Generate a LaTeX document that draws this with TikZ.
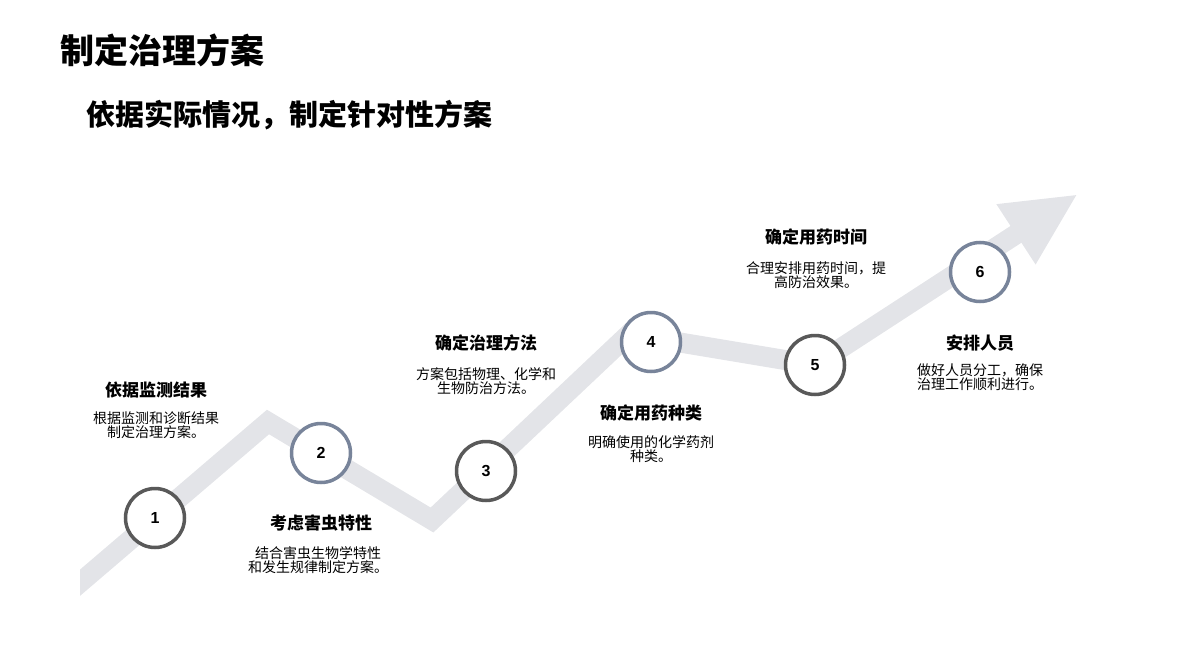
\documentclass[tikz,border=0pt]{standalone}
\usepackage{fontspec}
\newfontfamily\cjk{Noto Sans CJK SC}
\newfontfamily\numfont{Liberation Sans}
\usetikzlibrary{arrows.meta}

\definecolor{bandgray}{HTML}{E3E4E8}
\definecolor{darkring}{HTML}{595959}
\definecolor{slatering}{HTML}{78849A}

\tikzset{
  band/.style={draw=bandgray, line width=20pt, line join=miter,
    -{Triangle[length=74pt,width=66pt]}},
  ring/.style={circle, fill=white, line width=3.5pt, minimum size=59pt,
    inner sep=0pt, font=\numfont\bfseries\fontsize{16}{16}\selectfont},
  darkstep/.style={ring, draw=darkring},
  slatestep/.style={ring, draw=slatering},
  headline/.style={font=\cjk\bfseries\fontsize{17}{20}\selectfont, inner sep=0pt},
  desc/.style={font=\cjk\fontsize{14}{14}\selectfont, align=center, inner sep=0pt},
}

\begin{document}
\begin{tikzpicture}[x=1pt, y=-1pt]

  \useasboundingbox (0,0) rectangle (1188,650);

  % Titles
  \node[anchor=west, inner sep=0pt, font=\cjk\bfseries\fontsize{34}{40}\selectfont]
    (title) at (60,50) {制定治理方案}; %
  \node[anchor=west, inner sep=0pt, font=\cjk\bfseries\fontsize{29}{34}\selectfont]
    (subtitle) at (86,115) {依据实际情况，制定针对性方案}; %

  % Band corners
  \coordinate (start)   at (68,593); %
  \coordinate (peak1)   at (268,422); %
  \coordinate (valley1) at (432,520); %
  \coordinate (peak2)   at (629,334); %
  \coordinate (bend)    at (815,365); %
  \coordinate (tip)     at (1078,194); %

  \begin{scope}
    \clip (80,0) rectangle (1188,650);
    \draw[band] (start) -- (peak1) -- (valley1) -- (peak2) -- (bend) -- (tip); %
  \end{scope}

  % Steps
  \node[darkstep]  (s1) at (155,518) {1}; %
  \node[slatestep] (s2) at (321,453) {2}; %
  \node[darkstep]  (s3) at (486,471) {3}; %
  \node[slatestep] (s4) at (651,342) {4}; %
  \node[darkstep]  (s5) at (815,365) {5}; %
  \node[slatestep] (s6) at (980,272) {6}; %

  % Headings
  \node[headline] (h1) at (156,390) {依据监测结果}; %
  \node[headline] (h2) at (321,523) {考虑害虫特性}; %
  \node[headline] (h3) at (486,343) {确定治理方法}; %
  \node[headline] (h4) at (651,413) {确定用药种类}; %
  \node[headline] (h5) at (816,237) {确定用药时间}; %
  \node[headline] (h6) at (980,343) {安排人员}; %

  % Descriptions
  \node[desc] (d1) at (156,425) {根据监测和诊断结果\\制定治理方案。}; %
  \node[desc] (d2) at (318,560) {结合害虫生物学特性\\和发生规律制定方案。}; %
  \node[desc] (d3) at (486,381) {方案包括物理、化学和\\生物防治方法。}; %
  \node[desc] (d4) at (651,449) {明确使用的化学药剂\\种类。}; %
  \node[desc] (d5) at (816,275) {合理安排用药时间，提\\高防治效果。}; %
  \node[desc] (d6) at (980,377) {做好人员分工，确保\\治理工作顺利进行。}; %

\end{tikzpicture}
\end{document}
